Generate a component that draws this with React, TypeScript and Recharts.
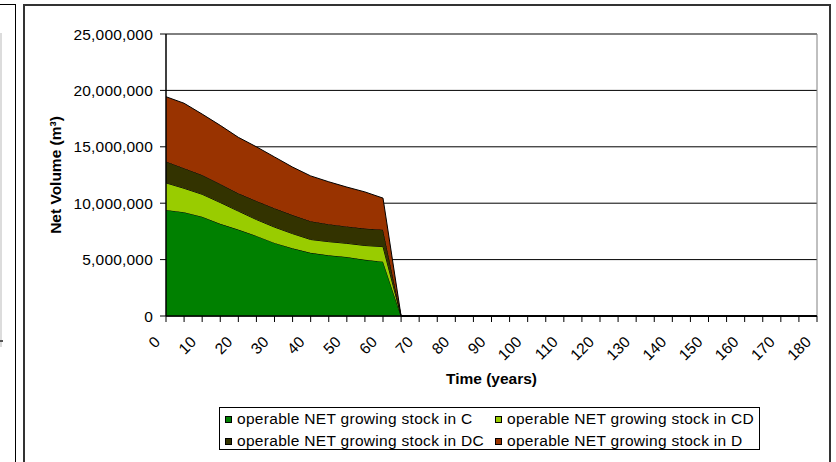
import React from 'react';
import {
  AreaChart,
  Area,
  XAxis,
  YAxis,
  CartesianGrid,
  Legend,
  ReferenceLine,
  Label
} from 'recharts';

// time axis, every 5 years
const years = [
  0, 5, 10, 15, 20, 25, 30, 35, 40, 45, 50, 55, 60, 65, 70, 75, 80, 85, 90,
  95, 100, 105, 110, 115, 120, 125, 130, 135, 140, 145, 150, 155, 160, 165,
  170, 175, 180
];

// net growing stock by stratum (m3)
const stockC = [
  9400000, 9200000, 8800000, 8170000, 7660000, 7100000, 6480000, 6000000,
  5600000, 5380000, 5230000, 4980000, 4820000,
  0, 0, 0, 0, 0, 0, 0, 0, 0, 0, 0, 0, 0, 0, 0, 0, 0, 0, 0, 0, 0, 0, 0, 0
];
const stockCD = [
  2400000, 2120000, 1990000, 1890000, 1640000, 1450000, 1400000, 1300000,
  1180000, 1210000, 1210000, 1270000, 1330000,
  0, 0, 0, 0, 0, 0, 0, 0, 0, 0, 0, 0, 0, 0, 0, 0, 0, 0, 0, 0, 0, 0, 0, 0
];
const stockDC = [
  1900000, 1780000, 1710000, 1640000, 1580000, 1650000, 1670000, 1650000,
  1620000, 1550000, 1500000, 1500000, 1500000,
  0, 0, 0, 0, 0, 0, 0, 0, 0, 0, 0, 0, 0, 0, 0, 0, 0, 0, 0, 0, 0, 0, 0, 0
];
const stockD = [
  5740000, 5760000, 5400000, 5200000, 4960000, 4800000, 4550000, 4250000,
  4020000, 3760000, 3490000, 3250000, 2800000,
  0, 0, 0, 0, 0, 0, 0, 0, 0, 0, 0, 0, 0, 0, 0, 0, 0, 0, 0, 0, 0, 0, 0, 0
];

const yTicks = [0, 5000000, 10000000, 15000000, 20000000, 25000000];

const series = [
  { key: 'c', name: 'operable NET growing stock in C', color: '#008000' },
  { key: 'cd', name: 'operable NET growing stock in CD', color: '#99CC00' },
  { key: 'dc', name: 'operable NET growing stock in DC', color: '#333300' },
  { key: 'd', name: 'operable NET growing stock in D', color: '#993300' },
];

const data = years.map((year, i) => ({
  year,
  c: stockC[i],
  cd: stockCD[i],
  dc: stockDC[i],
  d: stockD[i],
}));

const FONT = '"Liberation Sans", Arial, Helvetica, sans-serif';

const renderXTick = (props: any) => {
  const { x, y, payload } = props;
  if (payload.value % 10 !== 0) return <g />;
  const ex = x - 5;
  const ey = y + 19;
  return (
    <text
      x={ex}
      y={ey}
      textAnchor="end"
      transform={`rotate(-45, ${ex}, ${ey})`}
      fontSize={15.5}
      fill="#000"
    >
      {payload.value}
    </text>
  );
};

const renderLegend = () => (
  <div
    style={{
      position: 'relative',
      width: '100%',
      height: '100%',
      border: '1px solid #000',
      boxSizing: 'border-box',
      background: '#fff',
      fontSize: 15.5,
      letterSpacing: 0.3,
      color: '#000',
    }}
  >
    {series.map((s, i) => {
      const col = i % 2;
      const row = Math.floor(i / 2);
      return (
        <div
          key={s.key}
          style={{
            position: 'absolute',
            left: col ? 275 : 5,
            top: row ? 22 : 0,
            height: 22,
            display: 'flex',
            alignItems: 'center',
            whiteSpace: 'nowrap',
          }}
        >
          <span
            style={{
              display: 'inline-block',
              width: 5,
              height: 5,
              border: '1px solid #000',
              background: s.color,
              marginRight: 5,
            }}
          />
          <span>{s.name}</span>
        </div>
      );
    })}
  </div>
);

export default function App() {
  return (
    <div
      style={{
        position: 'absolute',
        left: 0,
        top: 0,
        width: 836,
        height: 462,
        overflow: 'hidden',
        background: '#fff',
        fontFamily: FONT,
      }}
    >
      {/* edge of the neighbouring chart */}
      <div style={{ position: 'absolute', left: 0, top: 33, width: 2, height: 314, background: '#dcdcdc' }} />
      <div style={{ position: 'absolute', left: 0, top: 340, width: 3, height: 2, background: '#555' }} />
      <div
        style={{
          position: 'absolute',
          left: 0,
          top: 4,
          width: 16,
          height: 480,
          borderTop: '1px solid #000',
          borderRight: '1px solid #000',
          boxSizing: 'border-box',
        }}
      />
      {/* chart frame */}
      <div
        style={{
          position: 'absolute',
          left: 23,
          top: 4,
          width: 808,
          height: 480,
          border: '2px solid #333',
          boxSizing: 'border-box',
        }}
      />
      <div style={{ position: 'absolute', left: 0, top: 0 }}>
        <AreaChart
          width={836}
          height={462}
          data={data}
          margin={{ top: 34, right: 19, bottom: 78, left: 0 }}
        >
          <CartesianGrid vertical={false} stroke="#000" strokeWidth={1} />
          <ReferenceLine y={25000000} stroke="#808080" strokeWidth={1} />
          <ReferenceLine x={180} stroke="#808080" strokeWidth={1} />
          {series.map((s) => (
            <Area
              key={s.key}
              type="linear"
              dataKey={s.key}
              name={s.name}
              stackId="stock"
              stroke="#000"
              strokeWidth={1}
              fill={s.color}
              fillOpacity={1}
              dot={false}
              activeDot={false}
              isAnimationActive={false}
            />
          ))}
          <XAxis
            dataKey="year"
            interval={0}
            tick={renderXTick}
            tickSize={6}
            height={68}
            axisLine={{ stroke: '#000', strokeWidth: 1.5 }}
            tickLine={{ stroke: '#000' }}
          >
            <Label
              value="Time (years)"
              position="insideBottom"
              offset={0}
              style={{ fontWeight: 'bold', fontSize: 15.5, fill: '#000' }}
            />
          </XAxis>
          <YAxis
            domain={[0, 25000000]}
            ticks={yTicks}
            interval={0}
            width={166}
            tickFormatter={(v: number) => v.toLocaleString('en-US')}
            tick={{ fill: '#000', fontSize: 15.5, letterSpacing: 0.2 }}
            tickMargin={7}
            tickSize={6}
            axisLine={{ stroke: '#000', strokeWidth: 1.5 }}
            tickLine={{ stroke: '#000' }}
          >
            <Label
              value="Net Volume (m³)"
              angle={-90}
              position="insideLeft"
              offset={55}
              style={{ textAnchor: 'middle', fontWeight: 'bold', fontSize: 15.5, fill: '#000' }}
            />
          </YAxis>
          <Legend
            layout="horizontal"
            verticalAlign="middle"
            align="center"
            content={renderLegend}
            wrapperStyle={{ left: 219, top: 407, width: 541, height: 43 }}
          />
        </AreaChart>
      </div>
    </div>
  );
}
